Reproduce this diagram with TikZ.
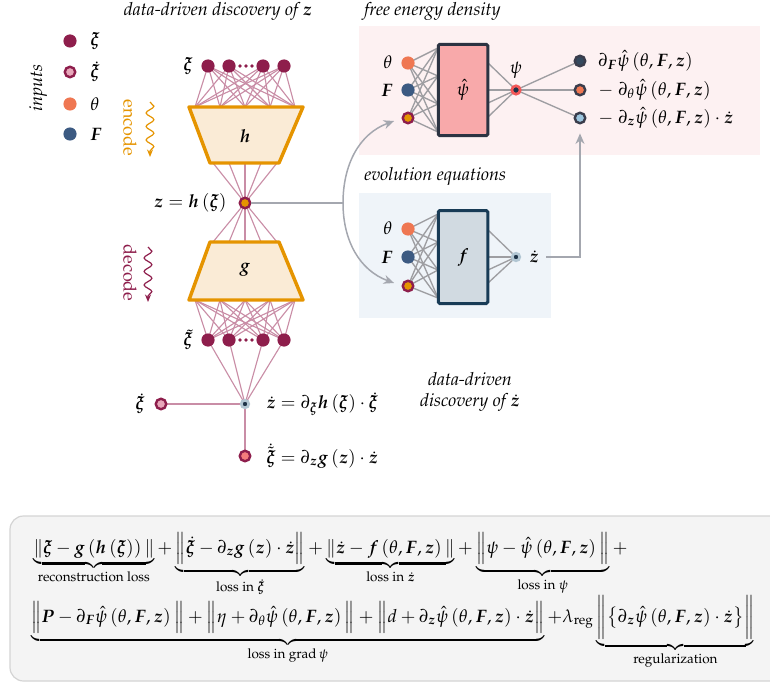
\documentclass[tikz,border=0pt,12pt]{standalone}
\usepackage[T1]{fontenc}
\usepackage{mathpazo}
\usepackage{amsmath}
\usepackage{bm}
\usetikzlibrary{arrows.meta,decorations.pathmorphing}

\pgfdeclarelayer{panel}
\pgfdeclarelayer{edges}
\pgfsetlayers{panel,edges,main}

\definecolor{maroon}{HTML}{8E1E4C}
\definecolor{pinkfill}{HTML}{E8A7BA}
\definecolor{thetaor}{HTML}{EF7752}
\definecolor{fblue}{HTML}{3C5A82}
\definecolor{zorange}{HTML}{E59400}
\definecolor{netline}{HTML}{C98DA6}
\definecolor{trapfill}{HTML}{FAEBD6}
\definecolor{grayline}{HTML}{9E9EA2}
\definecolor{psifill}{HTML}{F8A9AA}
\definecolor{psidraw}{HTML}{2C3342}
\definecolor{ffill}{HTML}{D1DAE1}
\definecolor{fdraw}{HTML}{183B56}
\definecolor{pinkbg}{HTML}{FDF1F2}
\definecolor{bluebg}{HTML}{EFF4F9}
\definecolor{connc}{HTML}{A4A7AF}
\definecolor{navy}{HTML}{1E3348}
\definecolor{ringblue}{HTML}{B2C6D3}
\definecolor{lightblue}{HTML}{9CC5DE}
\definecolor{salmon}{HTML}{F57C7C}
\definecolor{psiring}{HTML}{F25757}
\definecolor{outring}{HTML}{3A3D4C}
\definecolor{outnavy}{HTML}{34495E}
\definecolor{boxbg}{HTML}{F4F4F4}
\definecolor{boxline}{HTML}{D4D4D4}

% shorthand for the argument list of the learned potential
\newcommand{\tfz}{\left(\theta,\bm F,\bm z\right)}

\begin{document}
\begin{tikzpicture}[x=0.6667pt,y=-0.6667pt,
  nodedot/.style={circle,inner sep=0pt,minimum size=8.8pt,fill=#1},
  nodering/.style 2 args={circle,inner sep=0pt,minimum size=7.0pt,fill=#1,draw=#2,line width=1.6pt},
  smallring/.style 2 args={circle,inner sep=0pt,minimum size=5.0pt,fill=#1,draw=#2,line width=1.8pt},
  aeedge/.style={draw=netline,line width=0.75pt},
  nnedge/.style={draw=grayline,line width=0.9pt},
  trap/.style={draw=zorange,fill=trapfill,line width=2.3pt,line join=round},
  conn/.style={draw=connc,line width=1pt},
  arrowtip/.style={-{Stealth[length=7pt,width=6pt]}},
  ttl/.style={font=\itshape},
]
\useasboundingbox (0,0) rectangle (770,682);

% ---------- inputs legend ----------
\node[ttl,rotate=90] (inputs) at (38,88) {inputs};
\node[nodedot=maroon] (lxi) at (70,41) {};
\node[anchor=west] (lxit) at (84,41) {$\bm\xi$};
\node[nodering={pinkfill}{maroon}] (lxid) at (70,72) {};
\node[anchor=west] (lxidt) at (84,72) {$\dot{\bm\xi}$};
\node[nodedot=thetaor] (lth) at (70,104) {};
\node[anchor=west] (ltht) at (84,104) {$\theta$};
\node[nodedot=fblue] (lF) at (70,134) {};
\node[anchor=west] (lFt) at (84,134) {$\bm F$};

% ---------- autoencoder ----------
\node[ttl] (aetitle) at (218,11) {data-driven discovery of $\bm z$};

\foreach \x [count=\i] in {208,229,263,284}
  \node[nodedot=maroon] (x\i) at (\x,66) {};
\foreach \x in {240,246,252} \fill[maroon] (\x,66) circle (1.3pt);
\node (xlab) at (188,66) {$\bm\xi$};

\draw[trap] (189,107) -- (303,107) -- (279,163) -- (210,163) -- cycle;
\node (hlab) at (245,136) {$\bm h$};
\foreach \x [count=\j] in {195,220,245,270,295} \coordinate (ht\j) at (\x,107);
\foreach \x [count=\j] in {213,229,245,261,277} \coordinate (hb\j) at (\x,163);

\node[nodering={zorange}{maroon}] (zl) at (245,203) {};
\node[anchor=east] (zllab) at (233,203) {$\bm z = \bm h\left(\bm\xi\right)$};

\draw[trap] (210,242) -- (279,242) -- (303,300) -- (189,300) -- cycle;
\node (glab) at (245,270) {$\bm g$};
\foreach \x [count=\j] in {213,229,245,261,277} \coordinate (gt\j) at (\x,242);
\foreach \x [count=\j] in {195,220,245,270,295} \coordinate (gb\j) at (\x,300);

\foreach \x [count=\i] in {208,229,263,284}
  \node[nodedot=maroon] (y\i) at (\x,340) {};
\foreach \x in {240,246,252} \fill[maroon] (\x,340) circle (1.3pt);
\node (ylab) at (188,340) {$\tilde{\bm\xi}$};

\node[smallring={navy}{ringblue}] (zd) at (245,404) {};
\node[anchor=west] (zdlab) at (260,404) {$\dot{\bm z} = \partial_{\bm\xi}\bm h\left(\bm\xi\right)\cdot\dot{\bm\xi}$};
\node[nodering={pinkfill}{maroon}] (xid) at (161,404) {};
\node[anchor=east] (xidlab) at (151,404) {$\dot{\bm\xi}$};
\node[nodering={salmon}{maroon}] (ytd) at (245,456) {};
\node[anchor=west] (ytdlab) at (260,456) {$\dot{\tilde{\bm\xi}} = \partial_{\bm z}\bm g\left(\bm z\right)\cdot\dot{\bm z}$};

% encode / decode arrows
\node[rotate=-90,text=zorange] (enc) at (130,128) {encode};
\coordinate (encA) at (150,102);
\coordinate (encB) at (150,157);
\draw[zorange,line width=0.8pt,-{Stealth[length=5pt,width=4pt]},
  decorate,decoration={snake,amplitude=2.6pt,segment length=9pt,post length=4pt}] (encA) -- (encB);
\node[rotate=-90,text=maroon] (dec) at (130,273) {decode};
\coordinate (decA) at (148,247);
\coordinate (decB) at (148,302);
\draw[maroon,line width=0.8pt,-{Stealth[length=5pt,width=4pt]},
  decorate,decoration={snake,amplitude=2.6pt,segment length=9pt,post length=4pt}] (decA) -- (decB);

\node[align=center] (ddz) at (470,392) {\itshape data-driven\\\itshape discovery of $\dot{\bm z}$};

\begin{pgfonlayer}{edges}
  \foreach \i in {1,...,4} \foreach \j in {1,...,5} \draw[aeedge] (x\i.center) -- (ht\j);
  \foreach \j in {1,...,5} \draw[aeedge] (hb\j) -- (zl.center);
  \foreach \j in {1,...,5} \draw[aeedge] (zl.center) -- (gt\j);
  \foreach \i in {1,...,4} \foreach \j in {1,...,5} \draw[aeedge] (y\i.center) -- (gb\j);
  \foreach \i in {1,...,4} \draw[aeedge] (y\i.center) -- (zd.center);
  \draw[aeedge] (xid.center) -- (zd.center);
  \draw[aeedge] (zd.center) -- (ytd.center);
\end{pgfonlayer}

% ---------- free energy density ----------
\node[ttl,anchor=west] (fetitle) at (358,11) {free energy density};
\begin{pgfonlayer}{panel}
  \fill[pinkbg] (359,26) rectangle (760,155);
  \fill[bluebg] (359,193) rectangle (551,318);
  \draw[draw=boxline,fill=boxbg,rounded corners=9pt,line width=0.8pt] (10,516) rectangle (800,681);
\end{pgfonlayer}

\node[nodedot=thetaor] (pth) at (408,63) {};
\node[nodedot=fblue] (pF) at (408,90) {};
\node[nodering={zorange}{maroon}] (pz) at (408,118) {};
\node (pthl) at (388,62) {$\theta$};
\node (pFl) at (387,90) {$\bm F$};
\node[draw=psidraw,fill=psifill,line width=2pt,rounded corners=1pt,
      minimum width=33pt,minimum height=61pt,inner sep=0pt] (psibox) at (463,90) {$\hat\psi$};
\foreach \y [count=\j] in {48,76,104,132} \coordinate (pl\j) at (438,\y);
\foreach \y [count=\j] in {63,90,103,117} \coordinate (pr\j) at (488,\y);
\node[smallring={navy}{psiring},minimum size=5.6pt] (psi) at (516,90) {};
\node (psil) at (516,70) {$\psi$};
\node[nodering={outnavy}{outring}] (o1) at (580,61) {};
\node[nodering={thetaor}{outring}] (o2) at (580,90) {};
\node[nodering={lightblue}{outring}] (o3) at (580,118) {};
\node[anchor=west] (o1t) at (592,61) {$\partial_{\bm F}\hat\psi\tfz$};
\node[anchor=west] (o2t) at (592,90) {$-\;\partial_\theta\hat\psi\tfz$};
\node[anchor=west] (o3t) at (592,118) {$-\;\partial_{\bm z}\hat\psi\tfz\cdot\dot{\bm z}$};

% ---------- evolution equations ----------
\node[ttl,anchor=west] (evtitle) at (358,176) {evolution equations};
\node[nodedot=thetaor] (eth) at (408,229) {};
\node[nodedot=fblue] (eF) at (408,257) {};
\node[nodering={zorange}{maroon}] (ez) at (408,286) {};
\node (ethl) at (388,228) {$\theta$};
\node (eFl) at (387,257) {$\bm F$};
\node[draw=fdraw,fill=ffill,line width=2pt,rounded corners=1pt,
      minimum width=33pt,minimum height=62pt,inner sep=0pt] (fbox) at (463,257) {$\bm f$};
\foreach \y [count=\j] in {214,242,270,298} \coordinate (el\j) at (438,\y);
\foreach \y [count=\j] in {230,257,270,283} \coordinate (er\j) at (488,\y);
\node[smallring={navy}{ringblue}] (ezd) at (516,257) {};
\node[anchor=west] (ezdl) at (523,257) {$\dot{\bm z}$};

\begin{pgfonlayer}{edges}
  \foreach \n in {pth,pF,pz} \foreach \j in {1,...,4} \draw[nnedge] (\n.center) -- (pl\j);
  \foreach \j in {1,...,4} \draw[nnedge] (pr\j) -- (psi.center);
  \foreach \k in {1,2,3} \draw[nnedge] (psi.center) -- (o\k.center);
  \foreach \n in {eth,eF,ez} \foreach \j in {1,...,4} \draw[nnedge] (\n.center) -- (el\j);
  \foreach \j in {1,...,4} \draw[nnedge] (er\j) -- (ezd.center);
\end{pgfonlayer}

% ---------- connectors between the blocks ----------
\coordinate (split) at (343,203);
\coordinate (zdout) at (546,257);
\draw[conn] (zl) -- (split);
\draw[conn,arrowtip] (split) to[out=90,in=200] ([xshift=-5pt,yshift=-2pt]pz.west);
\draw[conn,arrowtip] (split) to[out=-90,in=160] ([xshift=-5pt,yshift=2pt]ez.west);
\draw[conn,arrowtip] (zdout) -| ([yshift=-6pt]o3.south);

% ---------- training loss ----------
\node[anchor=base west,inner sep=0pt] (loss1) at (33,553) {$\displaystyle
  \underbrace{\|\bm\xi-\bm g\left(\bm h\left(\bm\xi\right)\right)\|}_{\text{reconstruction loss}}
  +\underbrace{\Big\|\dot{\bm\xi}-\partial_{\bm z}\bm g\left(\bm z\right)\cdot\dot{\bm z}\Big\|}_{\text{loss in }\dot{\bm\xi}}
  +\underbrace{\|\dot{\bm z}-\bm f\tfz\|}_{\text{loss in }\dot{\bm z}}
  +\underbrace{\Big\|\psi-\hat\psi\tfz\Big\|}_{\text{loss in }\psi}+$};
\node[anchor=base west,inner sep=0pt] (loss2) at (31,622) {$\displaystyle
  \underbrace{\Big\|\bm P-\partial_{\bm F}\hat\psi\tfz\Big\|
  +\Big\|\eta+\partial_\theta\hat\psi\tfz\Big\|
  +\Big\|d+\partial_{\bm z}\hat\psi\tfz\cdot\dot{\bm z}\Big\|}_{\text{loss in grad}\,\psi}
  +\lambda_{\text{reg}}\underbrace{\bigg\|\big\{\partial_{\bm z}\hat\psi\tfz\cdot\dot{\bm z}\big\}\bigg\|}_{\text{regularization}}$};
\end{tikzpicture}
\end{document}
